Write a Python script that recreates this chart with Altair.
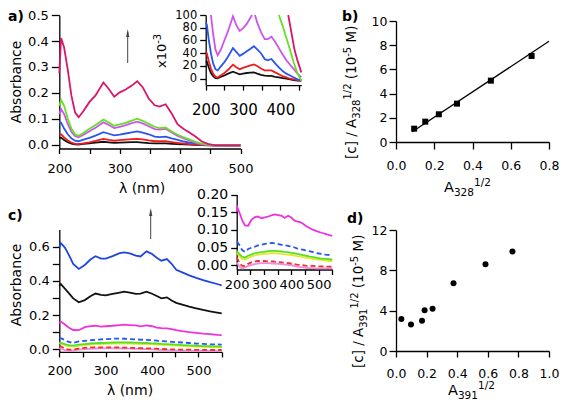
import altair as alt
import pandas as pd

W, H = 551, 392          # drawing area (page minus 8px margins)
FONT = "DejaVu Sans"

# ---------------- panel a : UV-vis spectra ----------------
wl_a = [200, 203, 208, 214, 220, 226, 232, 240, 250, 260, 273, 282, 291, 300, 310, 320, 329,
        338, 348, 358, 366, 376, 386, 396, 406, 416, 426, 436, 446, 456, 470, 485, 500]
a_black = [0.026, 0.027, 0.018, 0.009, 0.004, 0.001, 0.0005, 0.003, 0.005, 0.008, 0.011, 0.009,
           0.007, 0.008, 0.009, 0.0095, 0.010, 0.008, 0.006, 0.005, 0.0045, 0.0045, 0.003, 0.002,
           0.001, 0.0, -0.001, -0.002, -0.003, -0.003, -0.003, -0.003, -0.003]
a_red = [0.042, 0.040, 0.028, 0.016, 0.008, 0.003, 0.002, 0.005, 0.009, 0.014, 0.022, 0.018,
         0.015, 0.017, 0.019, 0.021, 0.0225, 0.020, 0.016, 0.013, 0.013, 0.013, 0.010, 0.007,
         0.004, 0.002, 0.0, -0.001, -0.002, -0.003, -0.003, -0.003, -0.003]
a_blue = [0.088, 0.085, 0.062, 0.040, 0.024, 0.015, 0.013, 0.019, 0.026, 0.035, 0.048, 0.042,
          0.036, 0.039, 0.043, 0.047, 0.051, 0.046, 0.040, 0.031, 0.029, 0.031, 0.024, 0.018,
          0.012, 0.008, 0.005, 0.002, -0.001, -0.003, -0.003, -0.003, -0.003]
a_magenta = [0.118, 0.137, 0.118, 0.080, 0.050, 0.033, 0.028, 0.038, 0.052, 0.065, 0.086, 0.076,
             0.064, 0.069, 0.075, 0.083, 0.089, 0.082, 0.071, 0.060, 0.058, 0.061, 0.047, 0.034,
             0.024, 0.015, 0.007, 0.001, -0.002, -0.003, -0.003, -0.003, -0.003]
a_green = [0.150, 0.172, 0.150, 0.100, 0.062, 0.040, 0.034, 0.045, 0.061, 0.076, 0.097, 0.085,
           0.073, 0.078, 0.084, 0.093, 0.100, 0.092, 0.080, 0.069, 0.064, 0.066, 0.051, 0.038,
           0.028, 0.019, 0.011, 0.004, 0.0, -0.002, -0.003, -0.003, -0.003]
a_crimson = [0.276, 0.412, 0.375, 0.290, 0.190, 0.125, 0.106, 0.130, 0.165, 0.190, 0.240, 0.215,
             0.185, 0.202, 0.213, 0.228, 0.245, 0.222, 0.178, 0.152, 0.147, 0.156, 0.120, 0.078,
             0.060, 0.046, 0.030, 0.012, 0.003, -0.002, -0.003, -0.003, -0.003]

# inset of panel a (x 10^-3): parts that lie inside its frame
ia_mag1_wl = [214, 220, 226, 232, 240, 250, 260, 273, 282, 291, 300, 310, 318, 324]
ia_mag1 = [100, 70, 46, 37, 45, 60, 75, 98, 84, 75, 79, 86, 94, 100]
ia_mag2_wl = [332, 338, 348, 358, 366, 376, 386, 396, 406, 416, 426, 436, 446, 456]
ia_mag2 = [100, 88, 73, 62, 62, 66, 58, 48, 38, 29, 22, 15, 8, 2]
ia_green_wl = [396, 406, 416, 426, 436, 446, 456]
ia_green = [100, 83, 64, 45, 25, 8, -3]
ia_crimson_wl = [421, 430, 438, 446, 456]
ia_crimson = [100, 71, 45, 28, 10]

# ---------------- panel b ----------------
b_x = [0.095, 0.153, 0.224, 0.319, 0.496, 0.709]
b_y = [1.10, 1.68, 2.29, 3.17, 5.07, 7.11]
fit_x = [0.085, 0.8]
fit_y = [0.85, 8.32]

# ---------------- panel c ----------------
wl_c = [200, 203, 212, 220, 230, 242, 255, 267, 278, 290, 300, 315, 330, 340, 352, 365, 375,
        388, 400, 410, 420, 432, 442, 452, 465, 480, 495, 510, 525, 540, 550]
c_blue = [0.596, 0.622, 0.595, 0.555, 0.499, 0.470, 0.493, 0.525, 0.544, 0.530, 0.530, 0.545,
          0.562, 0.567, 0.561, 0.548, 0.543, 0.573, 0.557, 0.535, 0.518, 0.528, 0.500, 0.465,
          0.450, 0.432, 0.418, 0.405, 0.393, 0.382, 0.374]
c_black = [0.372, 0.382, 0.355, 0.330, 0.298, 0.275, 0.288, 0.310, 0.326, 0.318, 0.315, 0.324,
           0.332, 0.337, 0.332, 0.324, 0.326, 0.337, 0.325, 0.312, 0.298, 0.304, 0.285, 0.272,
           0.262, 0.250, 0.240, 0.230, 0.222, 0.215, 0.210]
c_magenta = [0.152, 0.163, 0.145, 0.128, 0.113, 0.112, 0.130, 0.136, 0.138, 0.133, 0.135, 0.138,
             0.142, 0.144, 0.142, 0.140, 0.134, 0.140, 0.135, 0.127, 0.124, 0.122, 0.118, 0.112,
             0.106, 0.100, 0.096, 0.092, 0.089, 0.085, 0.083]
c_bluedash = [0.066, 0.065, 0.055, 0.043, 0.038, 0.046, 0.050, 0.053, 0.056, 0.058, 0.060, 0.062,
              0.063, 0.062, 0.060, 0.058, 0.057, 0.055, 0.053, 0.051, 0.048, 0.046, 0.044, 0.042,
              0.040, 0.037, 0.034, 0.032, 0.030, 0.029, 0.028]
c_green = [0.041, 0.038, 0.030, 0.024, 0.022, 0.027, 0.031, 0.034, 0.036, 0.037, 0.038, 0.040,
           0.041, 0.041, 0.040, 0.039, 0.038, 0.037, 0.035, 0.034, 0.032, 0.031, 0.029, 0.027,
           0.025, 0.023, 0.021, 0.019, 0.018, 0.017, 0.016]
c_yellow = [0.035, 0.033, 0.024, 0.018, 0.016, 0.021, 0.025, 0.028, 0.030, 0.031, 0.032, 0.033,
            0.034, 0.034, 0.033, 0.032, 0.031, 0.030, 0.029, 0.028, 0.026, 0.025, 0.023, 0.022,
            0.020, 0.018, 0.016, 0.015, 0.013, 0.012, 0.012]
c_reddash = [0.022, 0.018, 0.004, -0.002, -0.002, 0.004, 0.009, 0.011, 0.012, 0.012, 0.012, 0.011,
             0.011, 0.010, 0.009, 0.008, 0.007, 0.006, 0.005, 0.004, 0.002, 0.001, 0.000, -0.001,
             -0.002, -0.002, -0.003, -0.003, -0.004, -0.004, -0.004]
c_pink = [0.008, 0.004, -0.005, -0.009, -0.006, -0.002, 0.001, 0.003, 0.005, 0.006, 0.006, 0.006,
          0.005, 0.005, 0.004, 0.003, 0.002, 0.001, 0.000, -0.002, -0.004, -0.005, -0.006, -0.007,
          -0.008, -0.008, -0.009, -0.009, -0.009, -0.009, -0.009]

# ---------------- panel d ----------------
d_x = [0.035, 0.098, 0.170, 0.187, 0.239, 0.376, 0.585, 0.761]
d_y = [3.17, 2.64, 3.00, 4.03, 4.20, 6.71, 8.60, 9.88]

# ---------------- colours ----------------
COL = {
    "a_black": "#111111", "a_red": "#ee1c1c", "a_blue": "#2a55ee", "a_magenta": "#cc55ee",
    "a_green": "#66e024", "a_crimson": "#d8176a",
    "c_blue": "#1f45e0", "c_black": "#111111", "c_magenta": "#ee33dd", "c_bluedash": "#2a55ee",
    "c_green": "#55e020", "c_yellow": "#e6e632", "c_reddash": "#ee3030", "c_pink": "#f08ce0",
}


def long_df(wl, series):
    rows = []
    for name, vals in series:
        for w, v in zip(wl, vals):
            rows.append({"wl": w, "val": v, "series": name, "col": COL[name]})
    return pd.DataFrame(rows)


df_a = long_df(wl_a, [("a_black", a_black), ("a_red", a_red), ("a_blue", a_blue),
                      ("a_magenta", a_magenta), ("a_green", a_green), ("a_crimson", a_crimson)])

ia_rows = []
for name, vals in [("a_black", a_black), ("a_red", a_red), ("a_blue", a_blue)]:
    for w, v in zip(wl_a, vals):
        if w <= 456:
            ia_rows.append({"wl": w, "val": v * 1000, "series": name, "col": COL[name]})
for seg, name, wls, vals in [("m1", "a_magenta", ia_mag1_wl, ia_mag1), ("m2", "a_magenta", ia_mag2_wl, ia_mag2),
                             ("g", "a_green", ia_green_wl, ia_green), ("r", "a_crimson", ia_crimson_wl, ia_crimson)]:
    for w, v in zip(wls, vals):
        ia_rows.append({"wl": w, "val": v, "series": seg, "col": COL[name]})
df_ia = pd.DataFrame(ia_rows)

df_c_solid = long_df(wl_c, [("c_pink", c_pink), ("c_yellow", c_yellow), ("c_green", c_green),
                            ("c_magenta", c_magenta), ("c_black", c_black), ("c_blue", c_blue)])
df_c_dash = long_df(wl_c, [("c_reddash", c_reddash), ("c_bluedash", c_bluedash)])
df_ic_solid = long_df(wl_c, [("c_pink", c_pink), ("c_yellow", c_yellow), ("c_green", c_green),
                             ("c_magenta", c_magenta)])

df_b = pd.DataFrame({"x": b_x, "y": b_y})
df_fit = pd.DataFrame({"x": fit_x, "y": fit_y})
df_d = pd.DataFrame({"x": d_x, "y": d_y})


# ---------------- helpers ----------------
def lin(domain, rng):
    return alt.Scale(domain=domain, range=rng, nice=False, zero=False)


def ax_x(values, y0, size, tick, pad, expr=None, fmt=None):
    kw = dict(values=values, orient="bottom", offset=y0 - H, title="", labelFontSize=size,
              tickSize=tick, labelPadding=pad, labelFlush=False, labelOverlap=False)
    if expr:
        kw["labelExpr"] = expr
    if fmt:
        kw["format"] = fmt
    return alt.Axis(**kw)


def ax_y(values, x0, size, tick, pad, expr=None, fmt=None):
    kw = dict(values=values, orient="left", offset=-x0, title="", labelFontSize=size,
              tickSize=tick, labelPadding=pad, labelFlush=False, labelOverlap=False)
    if expr:
        kw["labelExpr"] = expr
    if fmt:
        kw["format"] = fmt
    return alt.Axis(**kw)


def lines(df, xs, ys, xaxis, yaxis, dash=None, width=1.8):
    mk = alt.Chart(df).mark_line(strokeWidth=width, strokeDash=dash) if dash else \
        alt.Chart(df).mark_line(strokeWidth=width)
    return mk.encode(
        x=alt.X("wl:Q", scale=xs, axis=xaxis),
        y=alt.Y("val:Q", scale=ys, axis=yaxis),
        color=alt.Color("col:N", scale=None),
        detail="series:N",
    )


HUND = "datum.value % 100 == 0 ? datum.label : ''"

# ---- scales (pixel ranges inside the drawing area) ----
A_X = [51.3, 232.5];  A_Y = [140.5, 7.2]
IA_X = [197.7, 293.3]; IA_Y = [77.1, 7.0]
B_X = [388, 541];     B_Y = [134, 13]
C_X = [51.3, 213.7];  C_Y = [343.9, 221.6]
IC_X = [228.7, 324.3]; IC_Y = [261.5, 186.6]
D_X = [388, 541];     D_Y = [343, 222]

layer_a = lines(df_a, lin([200, 500], A_X), lin([-0.015, 0.5], A_Y),
                ax_x(list(range(200, 501, 50)), A_Y[0], 13, 5, 9, HUND),
                ax_y([0, 0.1, 0.2, 0.3, 0.4, 0.5], A_X[0], 13, 8, 3, fmt=".1f"))
layer_ia = lines(df_ia, lin([200, 456], IA_X), lin([-10, 100], IA_Y),
                 ax_x(list(range(200, 451, 50)), IA_Y[0], 15, 5, 12, HUND),
                 ax_y([0, 20, 40, 60, 80, 100], IA_X[0], 11.5, 6, 3, fmt="d"))

layer_b_fit = alt.Chart(df_fit).mark_line(color="black", strokeWidth=1.3).encode(
    x=alt.X("x:Q", scale=lin([0, 0.8], B_X),
            axis=ax_x([0, 0.2, 0.4, 0.6, 0.8], B_Y[0], 12.5, 7, 10, fmt=".1f")),
    y=alt.Y("y:Q", scale=lin([0, 10], B_Y),
            axis=ax_y([0, 2, 4, 6, 8, 10], B_X[0], 12.5, 7, 2, fmt="d")))
layer_b_pts = alt.Chart(df_b).mark_square(color="black", size=36, opacity=1).encode(
    x=alt.X("x:Q", scale=lin([0, 0.8], B_X), axis=None),
    y=alt.Y("y:Q", scale=lin([0, 10], B_Y), axis=None))

C_XS = lambda: lin([200, 550], C_X)
C_YS = lambda: lin([-0.015, 0.7], C_Y)
layer_c = lines(df_c_solid, C_XS(), C_YS(),
                ax_x(list(range(200, 551, 50)), C_Y[0], 13, 5, 8, HUND),
                ax_y([0, 0.1, 0.2, 0.3, 0.4, 0.5, 0.6], C_X[0], 13, 7, 3,
                     "round(datum.value*10) % 2 == 0 ? datum.label : ''", ".1f"))
layer_c_dash = lines(df_c_dash, C_XS(), C_YS(), None, None, dash=[5, 3])

IC_XS = lambda: lin([200, 550], IC_X)
IC_YS = lambda: lin([-0.012, 0.2], IC_Y)
layer_ic = lines(df_ic_solid, IC_XS(), IC_YS(),
                 ax_x(list(range(200, 551, 50)), IC_Y[0], 13, 5, 4, HUND),
                 ax_y([0, 0.05, 0.1, 0.15, 0.2], IC_X[0], 14, 6, 3, fmt=".2f"))
layer_ic_dash = lines(df_c_dash, IC_XS(), IC_YS(), None, None, dash=[5, 3])

layer_d = alt.Chart(df_d).mark_circle(color="black", size=36, opacity=1).encode(
    x=alt.X("x:Q", scale=lin([0, 1], D_X),
            axis=ax_x([0, 0.2, 0.4, 0.6, 0.8, 1.0], D_Y[0], 12.5, 6, 10, fmt=".1f")),
    y=alt.Y("y:Q", scale=lin([0, 12], D_Y),
            axis=ax_y([0, 4, 8, 12], D_X[0], 12.5, 7, 2, fmt="d")))

# ---------------- arrows ----------------
df_arrow = pd.DataFrame({"x": [119.7, 142.7], "y": [55, 231], "y2": [24, 203]})
df_head = pd.DataFrame({"x": [119.7, 142.7], "y": [25, 204]})
layer_arrow = alt.Chart(df_arrow).mark_rule(color="#444444", strokeWidth=1).encode(
    x=alt.X("x:Q", scale=None, axis=None), y=alt.Y("y:Q", scale=None, axis=None), y2="y2:Q")
layer_head = alt.Chart(df_head).mark_point(
    shape="M0,-1L0.4,1L-0.4,1Z", filled=True, size=64, color="#444444", opacity=1).encode(
    x=alt.X("x:Q", scale=None, axis=None), y=alt.Y("y:Q", scale=None, axis=None))

# ---------------- texts ----------------
CW = {' ': 0.318, '(': 0.390, ')': 0.390, '[': 0.390, ']': 0.390, '/': 0.337, '-': 0.361,
      '.': 0.318, 'A': 0.684, 'M': 0.863, 'c': 0.550, 'x': 0.592, 'n': 0.634, 'm': 0.974}


def tw(s, size):
    return sum(CW.get(ch, 0.636) for ch in s) * size


def run(pieces, x0, y0, vertical):
    rows, pos = [], 0.0
    for text, size, shift in pieces:
        lead = len(text) - len(text.lstrip())
        pos += lead * 0.318 * size
        t = text.strip()
        if vertical:
            rows.append(dict(text=t, x=x0 - shift, y=y0 - pos, size=size, angle=270))
        else:
            rows.append(dict(text=t, x=x0 + pos, y=y0 - shift, size=size, angle=0))
        pos += tw(t, size)
    return rows


def ytitle(sub, x0, y0):
    return run([("[c] / A", 13.5, 0), (sub, 10, -4), ("1/2", 10, 5), (" (10", 13.5, 0),
                ("-5", 10, 5), (" M)", 13.5, 0)], x0, y0, True)


def xtitle(sub, x0, y0):
    return run([("A", 14.5, 0), (sub, 10.5, -4), ("1/2", 10.5, 6)], x0, y0, False)


left_rows = (ytitle("328", 348, 151) + ytitle("391", 355, 360) +
             xtitle("328", 436, 184) + xtitle("391", 440, 387) +
             run([("x10", 13, 0), ("-3", 10, 5)], 158, 60, True))
df_left = pd.DataFrame(left_rows)
df_center = pd.DataFrame([
    dict(text="Absorbance", x=12.5, y=74, size=14, angle=270),
    dict(text="Absorbance", x=12.5, y=277, size=14, angle=270),
    dict(text="λ (nm)", x=134, y=185, size=14, angle=0),
    dict(text="λ (nm)", x=122, y=387, size=14, angle=0),
])
df_bold = pd.DataFrame([
    dict(text="a)", x=0, y=13, size=14, angle=0),
    dict(text="b)", x=334, y=13, size=14, angle=0),
    dict(text="c)", x=0, y=212, size=14, angle=0),
    dict(text="d)", x=339, y=215, size=14, angle=0),
])


def texts(df, align, weight="normal"):
    return alt.Chart(df).mark_text(align=align, baseline="alphabetic", font=FONT,
                                   fontWeight=weight, color="black").encode(
        x=alt.X("x:Q", scale=None, axis=None),
        y=alt.Y("y:Q", scale=None, axis=None),
        text="text:N",
        size=alt.Size("size:Q", scale=None, legend=None),
        angle=alt.Angle("angle:Q", scale=None),
    )


chart = alt.layer(
    layer_a, layer_ia, layer_b_fit, layer_b_pts, layer_c, layer_c_dash, layer_ic, layer_ic_dash,
    layer_d, layer_arrow, layer_head,
    texts(df_left, "left"), texts(df_center, "center"), texts(df_bold, "left", "bold"),
).resolve_scale(x="independent", y="independent").resolve_axis(
    x="independent", y="independent"
).properties(
    width=W, height=H, autosize=alt.AutoSizeParams(type="none"), padding=0
).configure_view(stroke=None).configure_axis(
    domainColor="black", tickColor="black", labelColor="black", domainWidth=1.3,
    tickWidth=1.3, labelFont=FONT, grid=False
)

chart.save("out.html", embed_options={"renderer": "svg", "actions": False})
